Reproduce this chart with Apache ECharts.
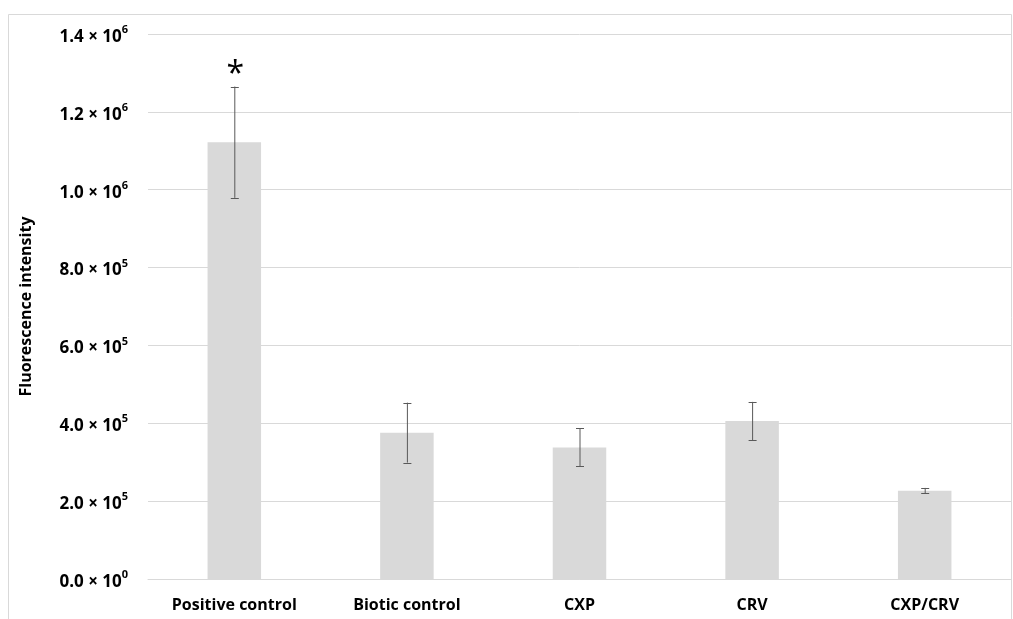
<!DOCTYPE html>
<html>
<head>
<meta charset="utf-8">
<script src="https://cdn.jsdelivr.net/npm/echarts@6/dist/echarts.min.js"></script>
<style>html,body{margin:0;padding:0;background:#fff}#c{width:1013px;height:619px}</style>
</head>
<body>
<div id="c"></div>
<script>
const categories = ['Positive control', 'Biotic control', 'CXP', 'CRV', 'CXP/CRV'];
const means = [1122000, 376000, 338000, 406000, 227000];
const errors = [143000, 77000, 49000, 49000, 7000];
const significance = ['*', '', '', '', ''];
const yTicks = [0, 200000, 400000, 600000, 800000, 1000000, 1200000, 1400000];

const FONT = '"Open Sans"';
function sci(v) {
  if (v === 0) return '{m|0.0 × 10}{s|0}';
  const e = Math.floor(Math.log10(v) + 1e-9);
  const m = (v / Math.pow(10, e)).toFixed(1);
  return '{m|' + m + ' × 10}{s|' + e + '}';
}

const chart = echarts.init(document.getElementById('c'), null, {renderer: 'canvas'});
chart.setOption({
  animation: false,
  backgroundColor: '#fff',
  graphic: [{
    type: 'rect', shape: {x: 8.5, y: 14.5, width: 1003, height: 640},
    style: {fill: 'none', stroke: '#d9d9d9', lineWidth: 1}, silent: true, z: -1
  }],
  grid: {left: 148, right: 2, top: 34, bottom: 40, containLabel: false},
  xAxis: {
    type: 'category', data: categories,
    axisLine: {show: true, lineStyle: {color: '#d9d9d9'}},
    axisTick: {show: false},
    axisLabel: {color: '#000', fontFamily: FONT, fontWeight: 'bold', fontSize: 16, margin: 18}
  },
  yAxis: {
    type: 'value', min: 0, max: yTicks[yTicks.length - 1], interval: yTicks[1] - yTicks[0],
    name: 'Fluorescence intensity', nameLocation: 'middle', nameGap: 114, nameRotate: 90,
    nameTextStyle: {color: '#000', fontFamily: FONT, fontWeight: 'bold', fontSize: 16},
    axisLine: {show: false}, axisTick: {show: false},
    splitLine: {lineStyle: {color: '#d9d9d9', width: 1}},
    axisLabel: {
      margin: 20, formatter: sci,
      rich: {
        m: {color: '#000', fontFamily: FONT, fontWeight: 'bold', fontSize: 17, padding: [6, 0, 0, 0]},
        s: {color: '#000', fontFamily: FONT, fontWeight: 'bold', fontSize: 11, padding: [0, 0, 8, 0]}
      }
    }
  },
  series: [{
    type: 'bar', data: means, barWidth: '31%',
    itemStyle: {color: '#d9d9d9'}, z: 2
  }, {
    type: 'custom', z: 3,
    data: means.map((m, i) => [i, m - errors[i], m + errors[i], significance[i]]),
    renderItem: function (params, api) {
      const x = api.coord([api.value(0), 0])[0];
      const lo = api.coord([api.value(0), api.value(1)])[1];
      const hi = api.coord([api.value(0), api.value(2)])[1];
      const cap = 3.5;
      const st = {stroke: '#595959', lineWidth: 1};
      const children = [
        {type: 'line', shape: {x1: x + 0.5, y1: hi, x2: x + 0.5, y2: lo}, style: st},
        {type: 'line', shape: {x1: x - cap, y1: Math.round(hi) + 0.5, x2: x + cap + 1, y2: Math.round(hi) + 0.5}, style: st},
        {type: 'line', shape: {x1: x - cap, y1: Math.round(lo) + 0.5, x2: x + cap + 1, y2: Math.round(lo) + 0.5}, style: st}
      ];
      const sig = significance[params.dataIndex];
      if (sig) {
        children.push({type: 'text', style: {text: sig, x: x + 1, y: hi + 4, textAlign: 'center', textVerticalAlign: 'bottom',
          fill: '#000', font: '32px ' + FONT}});
      }
      return {type: 'group', children: children};
    }
  }]
});
</script>
</body>
</html>
